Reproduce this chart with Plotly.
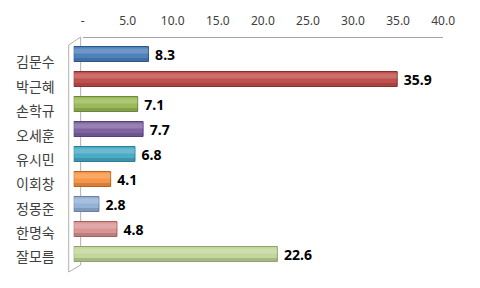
import plotly.graph_objects as go

categories = ["김문수", "박근혜", "손학규", "오세훈", "유시민", "이회창", "정몽준", "한명숙", "잘모름"]
values = [8.3, 35.9, 7.1, 7.7, 6.8, 4.1, 2.8, 4.8, 22.6]
colors = ["#4F81BD", "#C0504D", "#9BBB59", "#8064A2", "#4BACC6", "#F79646", "#95B3D7", "#D99694", "#C3D69B"]
edge_colors = ["#2F5487", "#8C2F2C", "#6B8636", "#56417A", "#2A7F99", "#B8641F", "#6680A8", "#A8605E", "#8DA566"]
tick_vals = [0, 5, 10, 15, 20, 25, 30, 35, 40]
tick_text = ["-", "5.0", "10.0", "15.0", "20.0", "25.0", "30.0", "35.0", "40.0"]

W, H = 480, 288
WE = 468  # effective rendered plot width in the viewer
fig = go.Figure()

fig.add_trace(go.Bar(
    y=categories, x=values, orientation="h",
    marker=dict(color=colors, line=dict(color=edge_colors, width=1)),
    width=0.6,
    text=["\u00a0" + f"{v:.1f}" for v in values], textposition="outside", constraintext="none",
    textfont=dict(family="Noto Sans", size=14, color="black", weight="bold"),
    cliponaxis=False, hoverinfo="skip", showlegend=False,
))
# lighter upper band and darker lower band for a cylinder look
fig.add_trace(go.Bar(
    y=categories, x=values, orientation="h",
    marker=dict(color="rgba(255,255,255,0.18)", line=dict(width=0)),
    width=0.2, offset=-0.22,
    hoverinfo="skip", showlegend=False,
))
fig.add_trace(go.Bar(
    y=categories, x=values, orientation="h",
    marker=dict(color="rgba(0,0,0,0.14)", line=dict(width=0)),
    width=0.12, offset=0.16,
    hoverinfo="skip", showlegend=False,
))

x0f, x1f = 72 / WE, (72 + 40 * 9.05) / WE
ytop, ybot = 41.5, 266.5
fig.update_layout(
    width=W, height=H,
    margin=dict(l=0, r=0, t=0, b=0),
    paper_bgcolor="white", plot_bgcolor="rgba(0,0,0,0)",
    barmode="overlay",
    xaxis=dict(domain=[x0f, x1f], range=[0, 40], showgrid=False, zeroline=False,
               showticklabels=False, showline=False),
    xaxis2=dict(domain=[81 / WE, 443 / WE], range=[0, 40], side="top",
                anchor="free", position=1 - 37 / H,
                tickvals=tick_vals, ticktext=tick_text, showline=True, linecolor="#A6A6A6",
                linewidth=1, ticks="", showgrid=False, zeroline=False, ticklabelstandoff=7,
                tickfont=dict(family="Noto Sans", size=12, color="#404040")),
    yaxis=dict(domain=[1 - ybot / H, 1 - ytop / H], autorange="reversed",
               categoryorder="array", categoryarray=categories,
               showticklabels=False, showgrid=False, zeroline=False, showline=False),
    yaxis2=dict(domain=[1 - (ybot + 6) / H, 1 - (ytop + 6) / H], autorange="reversed",
                categoryorder="array", categoryarray=categories,
                anchor="x", side="left", showgrid=False, zeroline=False, showline=False,
                ticks="", ticklabelstandoff=18,
                tickfont=dict(family="Noto Sans CJK KR", size=14, color="#404040")),
)
# invisible trace to activate xaxis2 / yaxis2
fig.add_trace(go.Scatter(x=[None] * len(categories), y=categories, xaxis="x2", yaxis="y2",
                         mode="markers", showlegend=False, hoverinfo="skip"))

frame = "#B0B0B0"
def px(x, y):
    return x / WE, 1 - y / H
lines = [((67, 45), (79, 37)), ((79, 37), (79, 265)), ((67, 45), (67, 272)),
         ((67, 272), (79, 265))]
for (a, b) in lines:
    xa, ya = px(*a)
    xb, yb = px(*b)
    fig.add_shape(type="line", xref="paper", yref="paper", x0=xa, y0=ya, x1=xb, y1=yb,
                  line=dict(color=frame, width=1), layer="below")

fig.write_html("out.html")
